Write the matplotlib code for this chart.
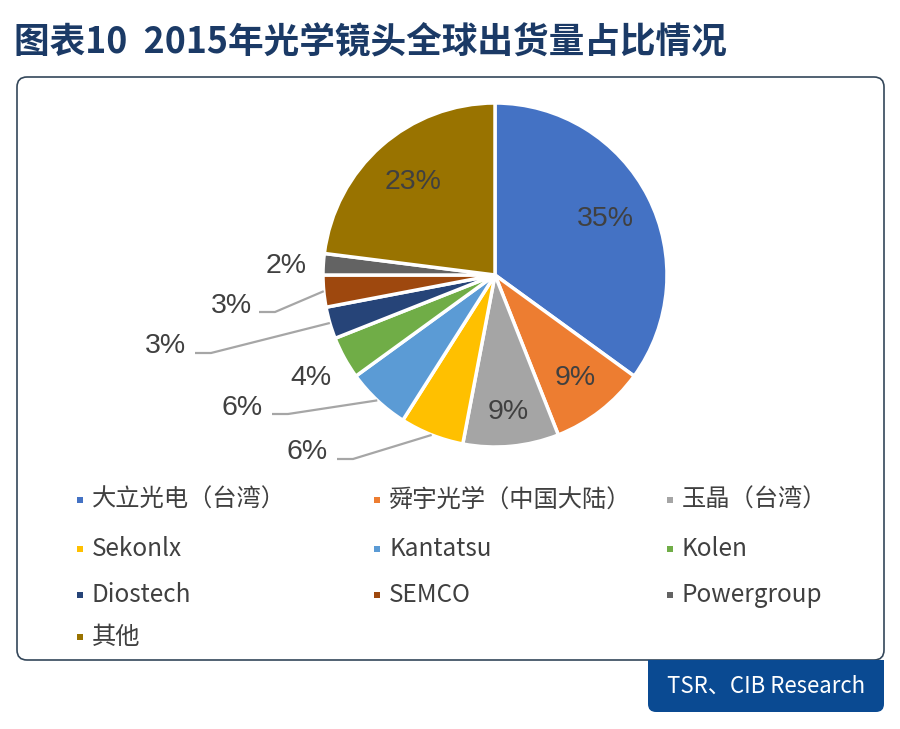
import numpy as np
import matplotlib
matplotlib.use('Agg')
import matplotlib.pyplot as plt
from matplotlib.patches import FancyBboxPatch, Rectangle

plt.rcParams['font.family'] = ['Noto Sans CJK SC', 'DejaVu Sans']

# data
names  = ['大立光电（台湾）', '舜宇光学（中国大陆）', '玉晶（台湾）',
          'Sekonlx', 'Kantatsu', 'Kolen',
          'Diostech', 'SEMCO', 'Powergroup', '其他']
shares = [35, 9, 9, 6, 6, 4, 3, 3, 2, 23]
colors = ['#4472C4', '#ED7D31', '#A5A5A5', '#FFC000', '#5B9BD5',
          '#70AD47', '#264478', '#9E480E', '#636363', '#997300']

W, H = 900, 729
def Y(y):
    return H - y

fig = plt.figure(figsize=(9, 7.29), dpi=100)
ax = fig.add_axes([0, 0, 1, 1])
ax.set_xlim(0, W)
ax.set_ylim(0, H)
ax.axis('off')

# title
ax.text(14, Y(42), '图表10  2015年光学镜头全球出货量占比情况', fontsize=25.7,
        fontweight='bold', color='#1B3A66', va='center', ha='left')

# frame
frame = FancyBboxPatch((17, Y(660)), 867, 583,
                       boxstyle='round,pad=0,rounding_size=10',
                       fc='white', ec='#34475A', lw=1.2, zorder=1)
ax.add_patch(frame)

# source tab
tab = FancyBboxPatch((648, Y(712)), 236, 52,
                     boxstyle='round,pad=0,rounding_size=8',
                     fc='#0A4A92', ec='none', zorder=2)
ax.add_patch(tab)
ax.add_patch(Rectangle((648, Y(686)), 236, 26, fc='#0A4A92', ec='none', zorder=2))
ax.text(766, Y(686), 'TSR、CIB Research', fontsize=16, color='white',
        ha='center', va='center', zorder=3)

# pie
cx, cy, R = 495, Y(275), 172
wedges, _ = ax.pie(shares, colors=colors, startangle=90, counterclock=False,
                   center=(cx, cy), radius=R, frame=True,
                   wedgeprops=dict(edgecolor='white', linewidth=2.5))
for w in wedges:
    w.set_zorder(4)
ax.set_xlim(0, W)
ax.set_ylim(0, H)
ax.set_aspect('equal')
ax.axis('off')

pct_font = dict(fontsize=20.5, color='#404040', family='Liberation Sans',
                ha='center', va='center', zorder=6)

inside = [0, 1, 2, 9]
inside_r = {0: 0.72, 1: 0.76, 2: 0.8, 9: 0.72}
for i in inside:
    w = wedges[i]
    mid = np.deg2rad((w.theta1 + w.theta2) / 2)
    r = inside_r[i] * R
    ax.text(cx + r * np.cos(mid), cy + r * np.sin(mid), '%d%%' % shares[i], **pct_font)

# outside labels: text centre (pixels), leader line start or None
outside = {3: ((307, 452), (337, 459)),
           4: ((242, 408), (272, 414)),
           5: ((311, 378), None),
           6: ((165, 346), (195, 353)),
           7: ((231, 306), (259, 312)),
           8: ((286, 266), None)}
for i, (pos, lead) in outside.items():
    ax.text(pos[0], Y(pos[1]), '%d%%' % shares[i], **pct_font)
    if lead is not None:
        w = wedges[i]
        mid = np.deg2rad((w.theta1 + w.theta2) / 2)
        ex, ey = cx + R * np.cos(mid), cy + R * np.sin(mid)
        xs = [lead[0], lead[0] + 16, ex]
        ys = [Y(lead[1]), Y(lead[1]), ey]
        ax.plot(xs, ys, color='#A6A6A6', lw=1.6, zorder=5, solid_capstyle='butt')

# legend
col_x = [80, 377, 670]
row_y = [500, 549, 595, 637]
for i, (nm, c) in enumerate(zip(names, colors)):
    x = col_x[i % 3]
    y = row_y[i // 3]
    ax.add_patch(Rectangle((x - 3, Y(y) - 3), 6, 6, fc=c, ec='none', zorder=5))
    ax.text(x + 12, Y(y), nm, fontsize=17.5, color='#404040', ha='left', va='center', zorder=5)

fig.savefig('out.png', dpi=100)
